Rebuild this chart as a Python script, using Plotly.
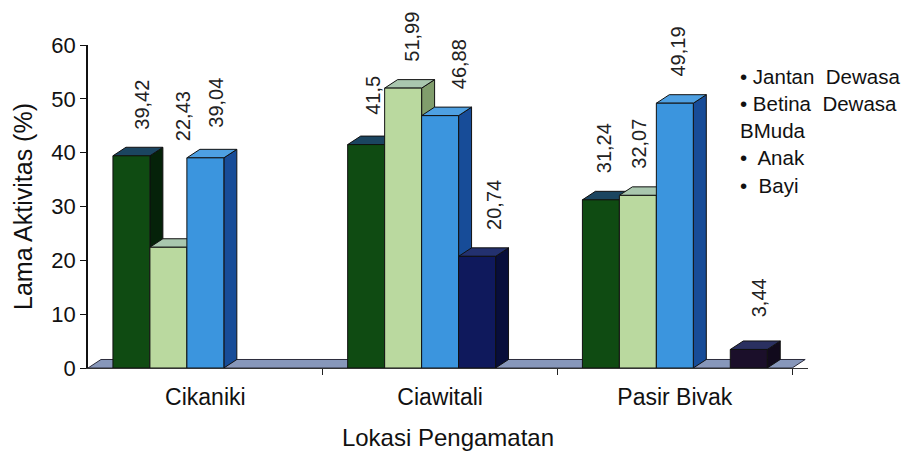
import plotly.graph_objects as go

# ---------------- data ----------------
categories = ["Cikaniki", "Ciawitali", "Pasir Bivak"]
series_names = ["Jantan Dewasa", "Betina Dewasa", "Muda", "Anak", "Bayi"]
jantan_dewasa = [39.42, 41.5, 31.24]
betina_dewasa = [22.43, 51.99, 32.07]
muda = [39.04, 46.88, 49.19]
anak = [None, 20.74, None]
bayi = [None, None, 3.44]
y_ticks = [0, 10, 20, 30, 40, 50, 60]
legend_labels = ["\u2022 Jantan  Dewasa", "\u2022 Betina  Dewasa", "BMuda", "\u2022  Anak", "\u2022  Bayi"]

series_values = [jantan_dewasa, betina_dewasa, muda, anak, bayi]

# ---------------- style ----------------
front_colors = ["#0f4b12", "#bad99f", "#3b95de", "#0f195c", "#1b0f2a"]
side_colors = ["#052209", "#809d6c", "#174c98", "#080e3a", "#110a1c"]
top_colors = ["#1b4560", "#a9c7ae", "#4ea0e2", "#23316f", "#2a3060"]
edge = "#111111"
FONT = "Liberation Sans, Arial, sans-serif"
TXT = "#111111"

W = 0.1575      # slot width (category units)
DX = 0.0553     # 3D depth offset x (category units)
DY = 1.58       # 3D depth offset y (value units)
X0, X1 = -0.5, 2.5
# hand placement of the value labels in the original (pixels, relative to bar front centre / back top)
label_dx_px = {(0, 0): 11, (0, 1): 14, (0, 2): 11,
               (1, 0): 6, (1, 1): 8, (1, 2): 19, (1, 3): 17,
               (2, 0): 3, (2, 1): 1, (2, 2): 3, (2, 4): 11}
label_dy_px = {(0, 1): 96, (0, 2): 20, (1, 0): 19, (2, 4): 22}

fig = go.Figure()

# floor
fig.add_trace(go.Scatter(
    x=[X0, X0 + DX, X1 + DX, X1, X0],
    y=[0, DY, DY, 0, 0],
    fill="toself", fillcolor="#8797ba", mode="lines",
    line=dict(color="#2b2b3b", width=1), hoverinfo="skip", showlegend=False))

annotations = []
for i, (name, vals) in enumerate(zip(series_names, series_values)):
    sx, sy, tx, ty = [], [], [], []
    xs = []
    for c, v in enumerate(vals):
        xc = c + (i - 2) * W
        xs.append(xc)
        if v is None:
            continue
        l, r = xc - W / 2, xc + W / 2
        sx += [r, r + DX, r + DX, r, r, None]
        sy += [0, DY, v + DY, v, 0, None]
        tx += [l, l + DX, r + DX, r, l, None]
        ty += [v, v + DY, v + DY, v, v, None]
        annotations.append(dict(
            x=xc, y=v + DY, xref="x", yref="y",
            text=("%g" % v).replace(".", ","), textangle=-90,
            showarrow=False, xanchor="center", yanchor="bottom",
            xshift=label_dx_px.get((c, i), 8),
            yshift=label_dy_px.get((c, i), 16),
            font=dict(family=FONT, size=20, color="#222222")))
    fig.add_trace(go.Scatter(x=sx, y=sy, fill="toself", fillcolor=side_colors[i],
                             mode="lines", line=dict(color=edge, width=1),
                             hoverinfo="skip", showlegend=False))
    fig.add_trace(go.Scatter(x=tx, y=ty, fill="toself", fillcolor=top_colors[i],
                             mode="lines", line=dict(color=edge, width=1),
                             hoverinfo="skip", showlegend=False))
    fig.add_trace(go.Bar(x=xs, y=vals, width=W, name=name, yaxis="y2",
                         marker=dict(color=front_colors[i], line=dict(color=edge, width=1)),
                         showlegend=False))

# legend as plain text (as in original)
for k, t in enumerate(legend_labels):
    annotations.append(dict(
        x=(738 - 88) / 720, y=(368 - 76) / 323 - k * 0.0845, xref="paper", yref="paper",
        text=t, showarrow=False, xanchor="left", yanchor="middle",
        font=dict(family=FONT, size=20.5, color=TXT)))

fig.update_layout(
    width=904, height=451,
    margin=dict(l=88, r=96, t=45, b=83),
    paper_bgcolor="white", plot_bgcolor="white",
    barmode="overlay",
    annotations=annotations,
    xaxis=dict(
        range=[X0, X1 + DX + 0.012], tickvals=[0, 1, 2], ticktext=categories,
        ticks="", showgrid=False, zeroline=False, automargin=False,
        showline=True, linecolor="#333333", linewidth=1,
        tickfont=dict(family=FONT, size=23, color=TXT),
        ticklabelstandoff=8,
        minor=dict(tickvals=[0.5, 1.5, 2.5], ticks="outside", ticklen=6,
                   tickcolor="#222222", showgrid=False),
        title=dict(text="Lokasi Pengamatan", standoff=22,
                   font=dict(family=FONT, size=24, color=TXT)),
    ),
    yaxis=dict(
        range=[0, 60], tickvals=y_ticks, ticks="outside", ticklen=6,
        tickcolor="#111111", showgrid=False, zeroline=False, automargin=False,
        showline=True, linecolor="#111111", linewidth=1.5,
        tickfont=dict(family=FONT, size=22, color=TXT),
        title=dict(text="Lama Aktivitas (%)", standoff=12,
                   font=dict(family=FONT, size=25, color=TXT)),
    ),
    yaxis2=dict(range=[0, 60], overlaying="y", visible=False),
)

fig.write_html("out.html", config={"displayModeBar": False},
               post_script="document.body.style.margin='0';")
